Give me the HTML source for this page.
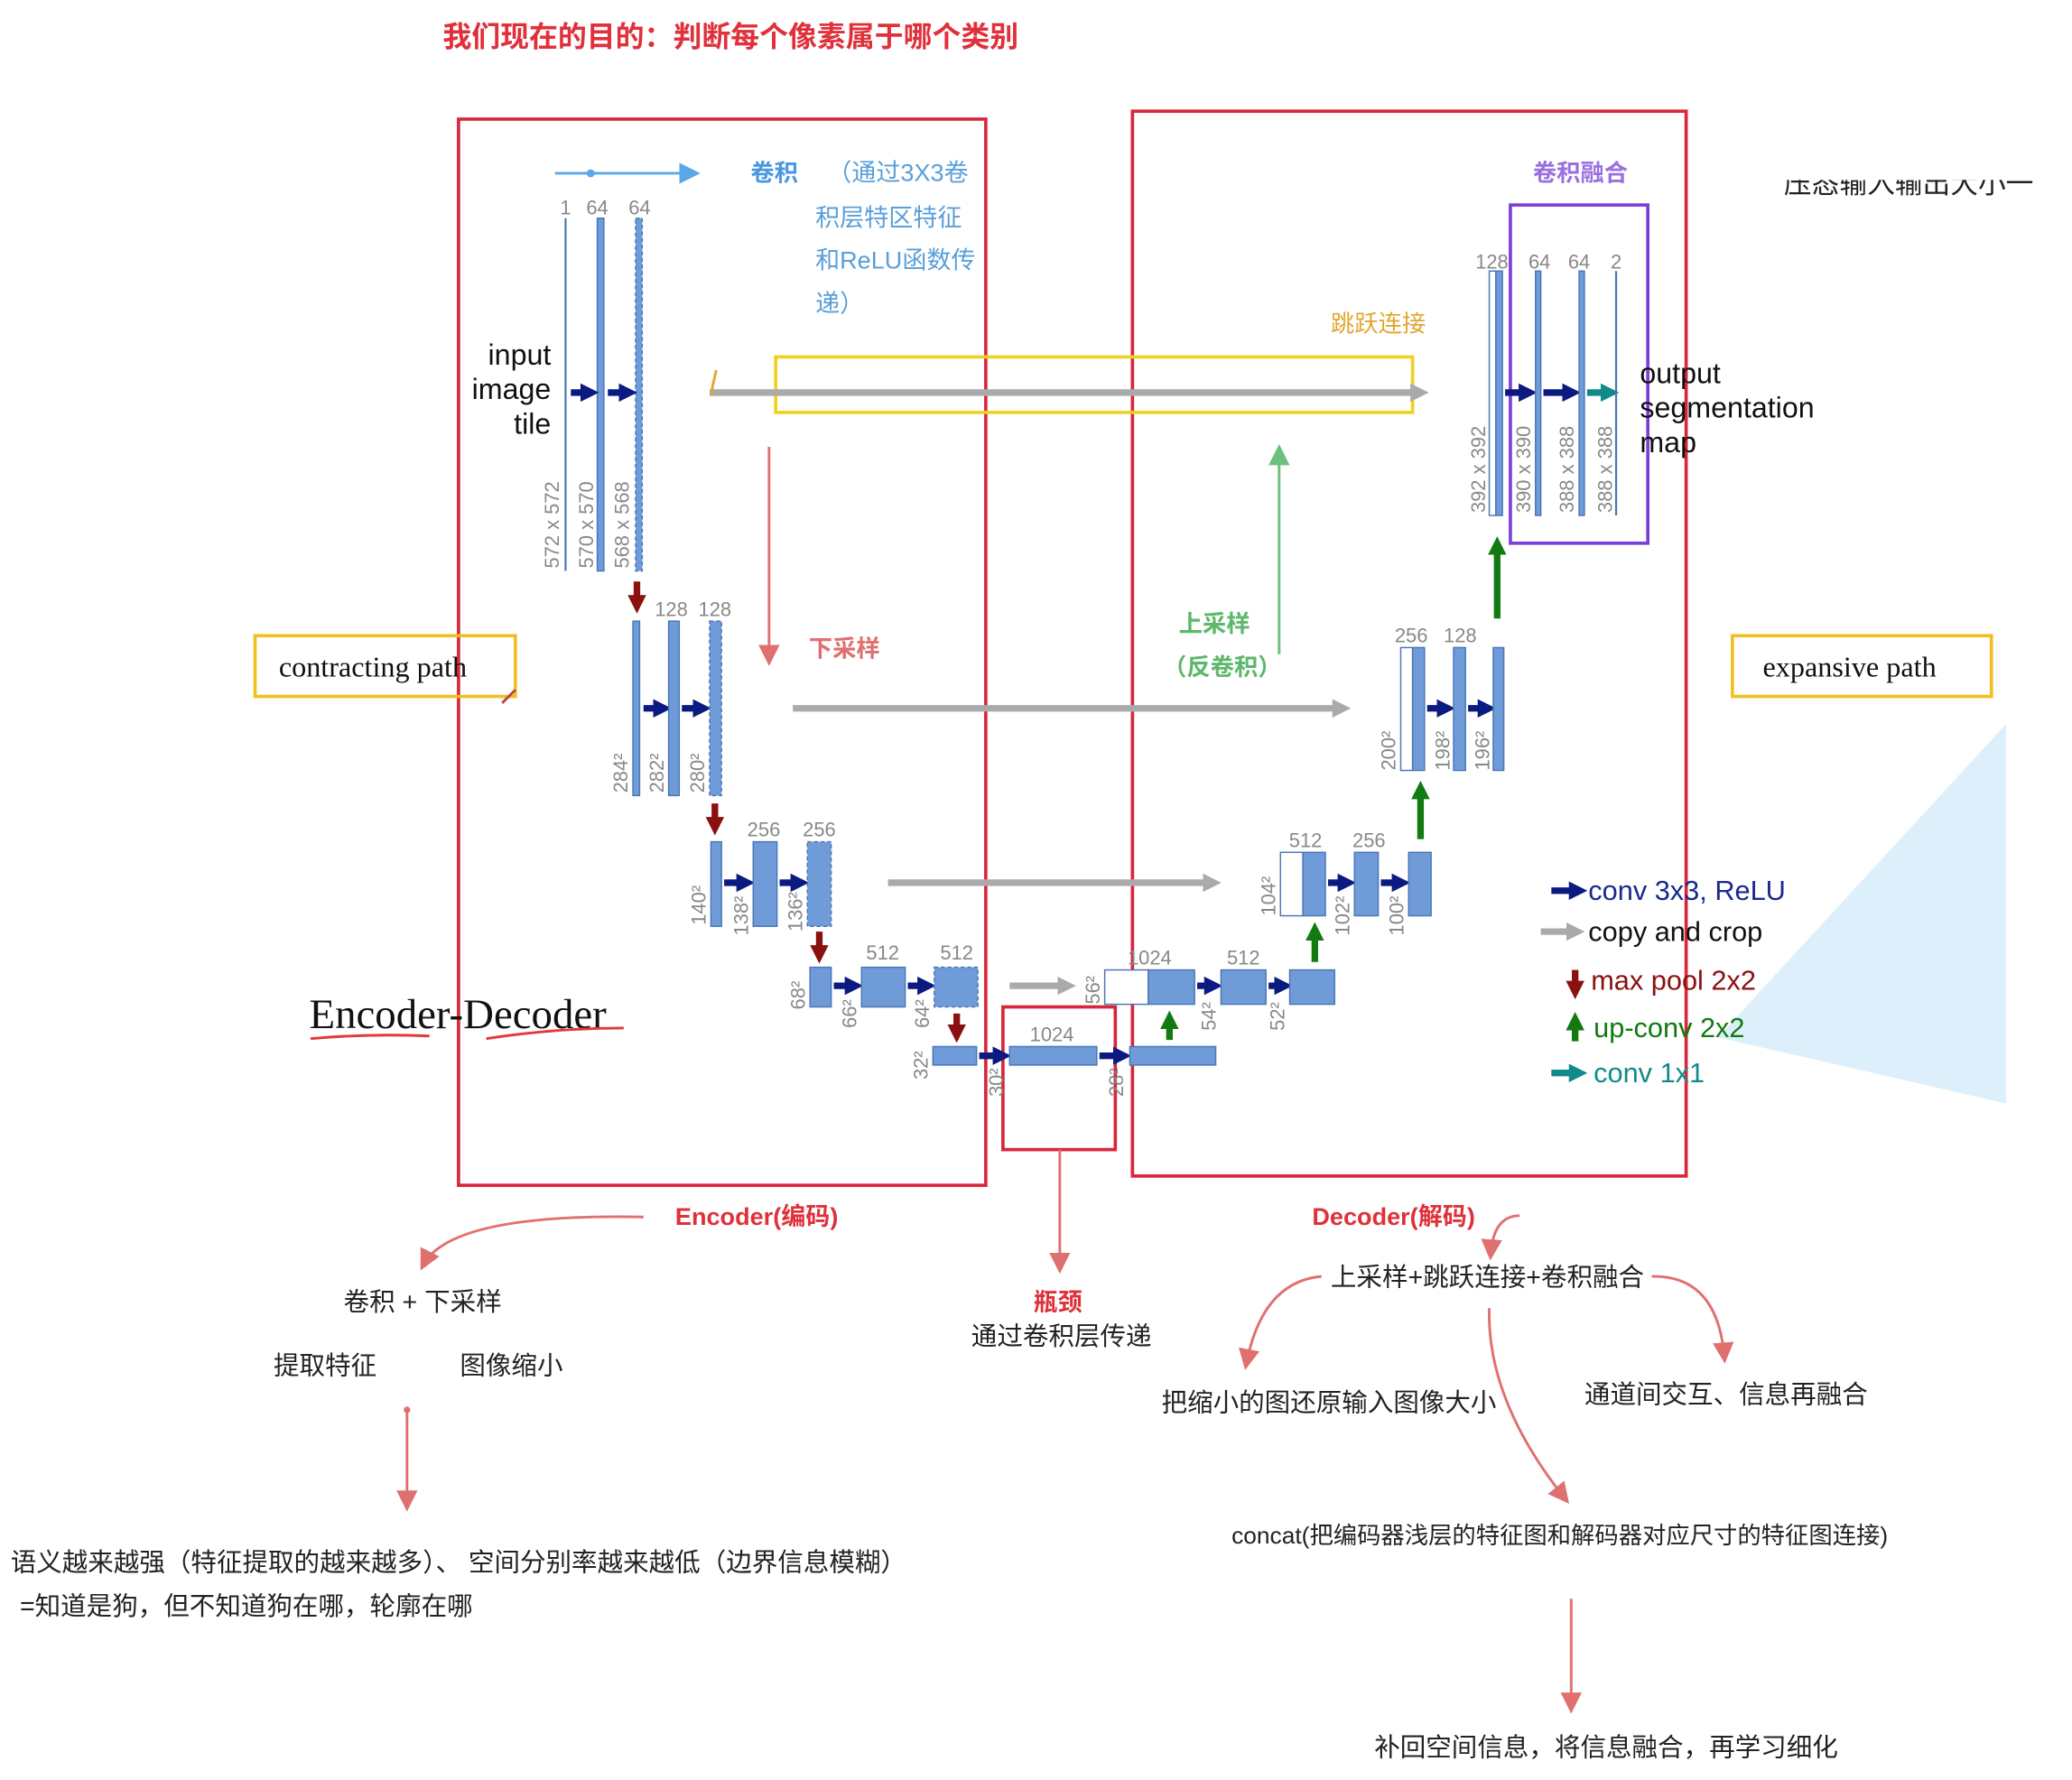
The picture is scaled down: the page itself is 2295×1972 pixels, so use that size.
<!DOCTYPE html>
<html><head><meta charset="utf-8"><style>
html,body{margin:0;padding:0;background:#fff}
svg{display:block}
text{font-family:"Liberation Sans","Noto Sans CJK SC",sans-serif}
.b{fill:#6f9bd8;stroke:#4a76b5;stroke-width:1}
.w{fill:#fff;stroke:#4a76b5;stroke-width:1}
.g{fill:#888;font-size:15px}
.n{fill:#222;font-size:19.5px}
</style></head><body>
<svg width="2295" height="1972" viewBox="0 0 1568 1347" xmlns="http://www.w3.org/2000/svg">
<defs>
<marker id="nv" viewBox="0 0 4 4" markerWidth="2.8" markerHeight="2.8" refX="2.5" refY="2" orient="auto"><path d="M0,0L4,2L0,4z" fill="#0b1a80"/></marker>
<marker id="gy" viewBox="0 0 4 4" markerWidth="2.8" markerHeight="2.8" refX="2.5" refY="2" orient="auto"><path d="M0,0L4,2L0,4z" fill="#aaa"/></marker>
<marker id="rd" viewBox="0 0 4 4" markerWidth="2.8" markerHeight="2.8" refX="2.5" refY="2" orient="auto"><path d="M0,0L4,2L0,4z" fill="#8b1010"/></marker>
<marker id="gr" viewBox="0 0 4 4" markerWidth="2.8" markerHeight="2.8" refX="2.5" refY="2" orient="auto"><path d="M0,0L4,2L0,4z" fill="#117a11"/></marker>
<marker id="tl" viewBox="0 0 4 4" markerWidth="2.8" markerHeight="2.8" refX="2.5" refY="2" orient="auto"><path d="M0,0L4,2L0,4z" fill="#128a8a"/></marker>
<marker id="pk" markerWidth="8" markerHeight="8" refX="6" refY="4" orient="auto"><path d="M0,0L8,4L0,8z" fill="#e07070"/></marker>
<marker id="lg" markerWidth="8" markerHeight="8" refX="6" refY="4" orient="auto"><path d="M0,0L8,4L0,8z" fill="#6cc07a"/></marker>
<marker id="lb" markerWidth="8" markerHeight="8" refX="6" refY="4" orient="auto"><path d="M0,0L8,4L0,8z" fill="#5aa8e8"/></marker>
</defs>

<polygon points="1518,548 1300,785 1518,835" fill="#dceffa"/>

<text x="335" y="35" font-size="21.8" font-weight="bold" fill="#e0303a">我们现在的目的：判断每个像素属于哪个类别</text>

<rect x="347" y="90" width="399" height="807" fill="none" stroke="#d9263a" stroke-width="2.5"/>
<rect x="857" y="84" width="419" height="806" fill="none" stroke="#d9263a" stroke-width="2.5"/>
<rect x="759" y="762" width="85" height="108" fill="none" stroke="#d9263a" stroke-width="2.5"/>
<rect x="587" y="270" width="482" height="42" fill="none" stroke="#f0d020" stroke-width="2.5"/>
<rect x="193" y="481" width="197" height="46" fill="none" stroke="#f0c020" stroke-width="2.5"/>
<rect x="1311" y="481" width="196" height="46" fill="none" stroke="#f0c020" stroke-width="2.5"/>
<rect x="1143" y="155" width="104" height="256" fill="none" stroke="#7a3fd8" stroke-width="2.5"/>
<text x="211" y="512" style="font-family:'Liberation Serif',serif;font-size:22px" fill="#111">contracting path</text>
<text x="1334" y="512" style="font-family:'Liberation Serif',serif;font-size:22px" fill="#111">expansive path</text>

<g stroke="#aaa" stroke-width="5">
<line x1="537" y1="297" x2="1076" y2="297" marker-end="url(#gy)"/>
<line x1="600" y1="536" x2="1017" y2="536" marker-end="url(#gy)"/>
<line x1="672" y1="668" x2="919" y2="668" marker-end="url(#gy)"/>
<line x1="764" y1="746" x2="809" y2="746" marker-end="url(#gy)"/>
</g>

<line x1="428" y1="165" x2="428" y2="432" stroke="#4a76b5" stroke-width="1.5"/>
<rect class="b" x="452" y="165" width="5" height="267"/>
<rect class="b" x="481" y="165" width="5" height="267" stroke-dasharray="3,2"/>
<text class="g" x="428" y="162" text-anchor="middle">1</text>
<text class="g" x="452" y="162" text-anchor="middle">64</text>
<text class="g" x="484" y="162" text-anchor="middle">64</text>
<g class="g" font-size="14">
<text transform="translate(423,430) rotate(-90)">572 x 572</text>
<text transform="translate(449,430) rotate(-90)">570 x 570</text>
<text transform="translate(476,430) rotate(-90)">568 x 568</text>
</g>
<text x="417" y="276" font-size="22" text-anchor="end" fill="#111">input</text>
<text x="417" y="302" font-size="22" text-anchor="end" fill="#111">image</text>
<text x="417" y="328" font-size="22" text-anchor="end" fill="#111">tile</text>

<g stroke="#0b1a80" stroke-width="5">
<line x1="432" y1="297" x2="448" y2="297" marker-end="url(#nv)"/>
<line x1="460" y1="297" x2="477" y2="297" marker-end="url(#nv)"/>
<line x1="487" y1="536" x2="503" y2="536" marker-end="url(#nv)"/>
<line x1="516" y1="536" x2="533" y2="536" marker-end="url(#nv)"/>
<line x1="548" y1="668" x2="566" y2="668" marker-end="url(#nv)"/>
<line x1="590" y1="668" x2="607" y2="668" marker-end="url(#nv)"/>
<line x1="631" y1="746" x2="648" y2="746" marker-end="url(#nv)"/>
<line x1="687" y1="746" x2="703" y2="746" marker-end="url(#nv)"/>
<line x1="741" y1="799" x2="760" y2="799" marker-end="url(#nv)"/>
<line x1="832" y1="799" x2="851" y2="799" marker-end="url(#nv)"/>
<line x1="906" y1="746" x2="920" y2="746" marker-end="url(#nv)"/>
<line x1="960" y1="746" x2="973" y2="746" marker-end="url(#nv)"/>
<line x1="1005" y1="668" x2="1021" y2="668" marker-end="url(#nv)"/>
<line x1="1045" y1="668" x2="1062" y2="668" marker-end="url(#nv)"/>
<line x1="1080" y1="536" x2="1096" y2="536" marker-end="url(#nv)"/>
<line x1="1111" y1="536" x2="1127" y2="536" marker-end="url(#nv)"/>
<line x1="1139" y1="297" x2="1158" y2="297" marker-end="url(#nv)"/>
<line x1="1168" y1="297" x2="1191" y2="297" marker-end="url(#nv)"/>
<line x1="1174" y1="674" x2="1196" y2="674" marker-end="url(#nv)"/>
</g>
<g stroke="#128a8a" stroke-width="5">
<line x1="1201" y1="297" x2="1220" y2="297" marker-end="url(#tl)"/>
<line x1="1174" y1="812" x2="1196" y2="812" marker-end="url(#tl)"/>
</g>
<line x1="1166" y1="705" x2="1194" y2="705" stroke="#aaa" stroke-width="5" marker-end="url(#gy)"/>
<g stroke="#8b1010" stroke-width="5">
<line x1="482" y1="440" x2="482" y2="459" marker-end="url(#rd)"/>
<line x1="541" y1="608" x2="541" y2="627" marker-end="url(#rd)"/>
<line x1="620" y1="705" x2="620" y2="724" marker-end="url(#rd)"/>
<line x1="724" y1="767" x2="724" y2="784" marker-end="url(#rd)"/>
<line x1="1192" y1="734" x2="1192" y2="751" marker-end="url(#rd)"/>
</g>
<g stroke="#117a11" stroke-width="5">
<line x1="885" y1="787" x2="885" y2="770" marker-end="url(#gr)"/>
<line x1="995" y1="728" x2="995" y2="703" marker-end="url(#gr)"/>
<line x1="1075" y1="635" x2="1075" y2="596" marker-end="url(#gr)"/>
<line x1="1133" y1="468" x2="1133" y2="411" marker-end="url(#gr)"/>
<line x1="1192" y1="788" x2="1192" y2="771" marker-end="url(#gr)"/>
</g>

<rect class="b" x="479" y="470" width="5" height="132"/>
<rect class="b" x="506" y="470" width="8" height="132"/>
<rect class="b" x="537" y="470" width="9" height="132" stroke-dasharray="3,2"/>
<text class="g" x="508" y="466" text-anchor="middle">128</text>
<text class="g" x="541" y="466" text-anchor="middle">128</text>
<g class="g" font-size="14">
<text transform="translate(475,600) rotate(-90)">284²</text>
<text transform="translate(502,600) rotate(-90)">282²</text>
<text transform="translate(533,600) rotate(-90)">280²</text>
</g>
<rect class="b" x="538" y="637" width="8" height="64"/>
<rect class="b" x="570" y="637" width="18" height="64"/>
<rect class="b" x="611" y="637" width="18" height="64" stroke-dasharray="3,2"/>
<text class="g" x="578" y="633" text-anchor="middle">256</text>
<text class="g" x="620" y="633" text-anchor="middle">256</text>
<g class="g" font-size="14">
<text transform="translate(534,700) rotate(-90)">140²</text>
<text transform="translate(566,708) rotate(-90)">138²</text>
<text transform="translate(607,705) rotate(-90)">136²</text>
</g>
<rect class="b" x="613" y="732" width="16" height="30"/>
<rect class="b" x="652" y="732" width="33" height="30"/>
<rect class="b" x="707" y="732" width="33" height="30" stroke-dasharray="3,2"/>
<text class="g" x="668" y="726" text-anchor="middle">512</text>
<text class="g" x="724" y="726" text-anchor="middle">512</text>
<g class="g" font-size="14">
<text transform="translate(609,764) rotate(-90)">68²</text>
<text transform="translate(648,778) rotate(-90)">66²</text>
<text transform="translate(703,778) rotate(-90)">64²</text>
</g>
<rect class="b" x="706" y="792" width="33" height="14"/>
<rect class="b" x="764" y="792" width="66" height="14"/>
<rect class="b" x="855" y="792" width="65" height="14"/>
<text class="g" x="796" y="788" text-anchor="middle">1024</text>
<g class="g" font-size="14">
<text transform="translate(702,817) rotate(-90)">32²</text>
<text transform="translate(759,830) rotate(-90)">30²</text>
<text transform="translate(850,830) rotate(-90)">28²</text>
</g>
<rect class="w" x="836" y="734" width="33" height="26"/>
<rect class="b" x="869" y="734" width="35" height="26"/>
<rect class="b" x="924" y="734" width="34" height="26"/>
<rect class="b" x="976" y="734" width="34" height="26"/>
<text class="g" x="870" y="730" text-anchor="middle">1024</text>
<text class="g" x="941" y="730" text-anchor="middle">512</text>
<g class="g" font-size="14">
<text transform="translate(832,760) rotate(-90)">56²</text>
<text transform="translate(920,780) rotate(-90)">54²</text>
<text transform="translate(972,780) rotate(-90)">52²</text>
</g>
<rect class="w" x="969" y="645" width="17" height="48"/>
<rect class="b" x="986" y="645" width="17" height="48"/>
<rect class="b" x="1025" y="645" width="18" height="48"/>
<rect class="b" x="1066" y="645" width="17" height="48"/>
<text class="g" x="988" y="641" text-anchor="middle">512</text>
<text class="g" x="1036" y="641" text-anchor="middle">256</text>
<g class="g" font-size="14">
<text transform="translate(965,693) rotate(-90)">104²</text>
<text transform="translate(1021,708) rotate(-90)">102²</text>
<text transform="translate(1062,708) rotate(-90)">100²</text>
</g>
<rect class="w" x="1060" y="490" width="9" height="93"/>
<rect class="b" x="1069" y="490" width="9" height="93"/>
<rect class="b" x="1100" y="490" width="9" height="93"/>
<rect class="b" x="1130" y="490" width="8" height="93"/>
<text class="g" x="1068" y="486" text-anchor="middle">256</text>
<text class="g" x="1105" y="486" text-anchor="middle">128</text>
<g class="g" font-size="14">
<text transform="translate(1056,583) rotate(-90)">200²</text>
<text transform="translate(1097,583) rotate(-90)">198²</text>
<text transform="translate(1127,583) rotate(-90)">196²</text>
</g>
<rect class="w" x="1127" y="205" width="5" height="185"/>
<rect class="b" x="1132" y="205" width="5" height="185"/>
<rect class="b" x="1162" y="205" width="4" height="185"/>
<rect class="b" x="1195" y="205" width="4" height="185"/>
<line x1="1223" y1="205" x2="1223" y2="390" stroke="#4a76b5" stroke-width="1.5"/>
<text class="g" x="1129" y="203" text-anchor="middle">128</text>
<text class="g" x="1165" y="203" text-anchor="middle">64</text>
<text class="g" x="1195" y="203" text-anchor="middle">64</text>
<text class="g" x="1223" y="203" text-anchor="middle">2</text>
<g class="g" font-size="14">
<text transform="translate(1124,388) rotate(-90)">392 x 392</text>
<text transform="translate(1158,388) rotate(-90)">390 x 390</text>
<text transform="translate(1191,388) rotate(-90)">388 x 388</text>
<text transform="translate(1220,388) rotate(-90)">388 x 388</text>
</g>
<text x="1241" y="290" font-size="22" fill="#111">output</text>
<text x="1241" y="316" font-size="22" fill="#111">segmentation</text>
<text x="1241" y="342" font-size="22" fill="#111">map</text>

<text x="1202" y="681" font-size="21" fill="#1a2a8a">conv 3x3, ReLU</text>
<text x="1202" y="712" font-size="21" fill="#111">copy and crop</text>
<text x="1204" y="749" font-size="21" fill="#8b1010">max pool 2x2</text>
<text x="1206" y="785" font-size="21" fill="#117a11">up-conv 2x2</text>
<text x="1206" y="819" font-size="21" fill="#128a8a">conv 1x1</text>

<line x1="420" y1="131" x2="526" y2="131" stroke="#5aa8e8" stroke-width="2" marker-end="url(#lb)"/>
<circle cx="447" cy="131" r="3" fill="#5aa8e8"/>
<text x="568" y="137" font-size="18" font-weight="bold" fill="#4a98e0">卷积</text>
<g font-size="18.5" fill="#5a9fd8">
<text x="626" y="137">（通过3X3卷</text>
<text x="617" y="171">积层特区特征</text>
<text x="617" y="203">和ReLU函数传</text>
<text x="617" y="236">递）</text>
</g>
<text x="1007" y="251" font-size="18" fill="#e0a830">跳跃连接</text>
<path d="M542,280 L538,298" stroke="#e0a830" stroke-width="2" fill="none"/>
<line x1="582" y1="338" x2="582" y2="500" stroke="#e07070" stroke-width="2" marker-end="url(#pk)"/>
<text x="612" y="497" font-size="18" font-weight="bold" fill="#e07070">下采样</text>
<line x1="968" y1="495" x2="968" y2="340" stroke="#6cc07a" stroke-width="2" marker-end="url(#lg)"/>
<text x="892" y="478" font-size="18" font-weight="bold" fill="#5cb86a">上采样</text>
<text x="880" y="511" font-size="18" font-weight="bold" fill="#5cb86a">（反卷积）</text>
<text x="1160" y="137" font-size="18" font-weight="bold" fill="#9a70e0">卷积融合</text>
<text x="1350" y="146" font-size="21" fill="#222">压态输入输出大小一</text>
<rect x="1340" y="110" width="230" height="26" fill="#fff"/>

<text x="234" y="778" style="font-family:'Liberation Serif',serif;font-size:32px" fill="#111">Encoder-Decoder</text>
<path d="M235,786 Q280,782 325,784" stroke="#e03a3a" stroke-width="2" fill="none"/>
<path d="M368,786 Q420,778 472,778" stroke="#e03a3a" stroke-width="2" fill="none"/>
<path d="M380,532 L390,522" stroke="#c04040" stroke-width="2"/>

<text x="511" y="927" font-size="18.5" font-weight="bold" fill="#e0303a">Encoder(编码)</text>
<path d="M487,921 Q340,918 320,958" stroke="#e07070" stroke-width="2" fill="none" marker-end="url(#pk)"/>
<text x="260" y="992" class="n">卷积 + 下采样</text>
<text x="207" y="1040" class="n">提取特征</text>
<text x="348" y="1040" class="n">图像缩小</text>
<circle cx="308" cy="1067" r="2.5" fill="#e07070"/>
<line x1="308" y1="1067" x2="308" y2="1140" stroke="#e07070" stroke-width="2" marker-end="url(#pk)"/>
<text x="8" y="1189" class="n">语义越来越强（特征提取的越来越多）、 空间分别率越来越低（边界信息模糊）</text>
<text x="15" y="1222" class="n">=知道是狗，但不知道狗在哪，轮廓在哪</text>

<line x1="802" y1="870" x2="802" y2="960" stroke="#e07070" stroke-width="2" marker-end="url(#pk)"/>
<text x="782" y="992" font-size="18.5" font-weight="bold" fill="#e0303a">瓶颈</text>
<text x="735" y="1018" class="n">通过卷积层传递</text>

<text x="993" y="927" font-size="18.5" font-weight="bold" fill="#e0303a">Decoder(解码)</text>
<path d="M1150,920 Q1130,920 1128,950" stroke="#e07070" stroke-width="2" fill="none" marker-end="url(#pk)"/>
<text x="1007" y="973" class="n">上采样+跳跃连接+卷积融合</text>
<path d="M1000,966 Q955,970 943,1033" stroke="#e07070" stroke-width="2" fill="none" marker-end="url(#pk)"/>
<path d="M1250,966 Q1300,965 1305,1028" stroke="#e07070" stroke-width="2" fill="none" marker-end="url(#pk)"/>
<path d="M1127,990 Q1125,1060 1185,1135" stroke="#e07070" stroke-width="2" fill="none" marker-end="url(#pk)"/>
<text x="879" y="1068" class="n">把缩小的图还原输入图像大小</text>
<text x="1199" y="1062" class="n">通道间交互、信息再融合</text>
<text x="932" y="1168" class="n" style="font-size:18px">concat(把编码器浅层的特征图和解码器对应尺寸的特征图连接)</text>
<line x1="1189" y1="1210" x2="1189" y2="1293" stroke="#e07070" stroke-width="2" marker-end="url(#pk)"/>
<text x="1040" y="1329" class="n">补回空间信息，将信息融合，再学习细化</text>
</svg>
</body></html>
